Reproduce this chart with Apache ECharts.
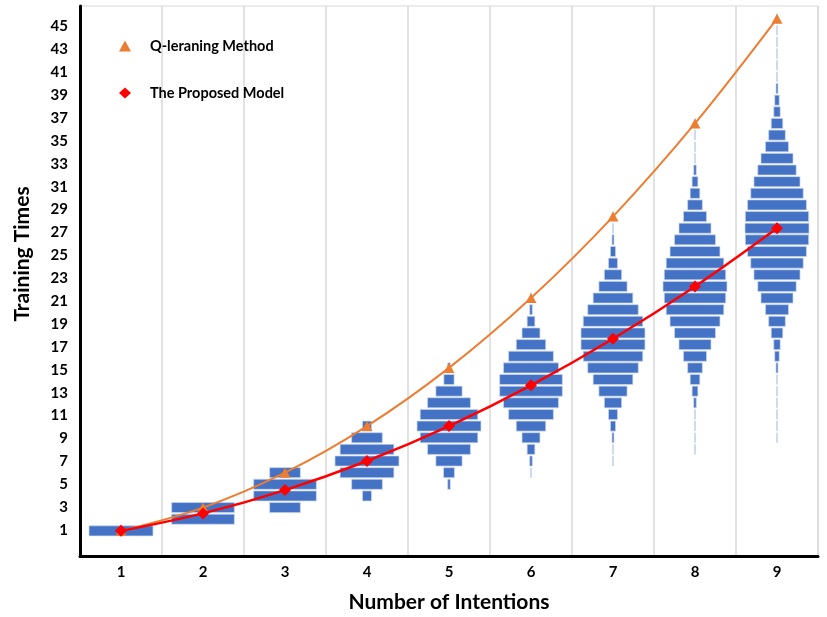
<!DOCTYPE html>
<html>
<head>
<meta charset="utf-8">
<script src="https://cdn.jsdelivr.net/npm/echarts@6/dist/echarts.min.js"></script>
<style>html,body{margin:0;padding:0;background:#fff}#c{width:827px;height:617px}</style>
</head>
<body>
<div id="c"></div>
<script>
// ---- data ----
const categories = ['1', '2', '3', '4', '5', '6', '7', '8', '9'];
const qLearning = [1, 3, 6, 10, 15, 21, 28, 36, 45];
const proposed = [1, 2.5, 4.5, 7, 10, 13.5, 17.5, 22, 27];
const yTickLabels = [1, 3, 5, 7, 9, 11, 13, 15, 17, 19, 21, 23, 25, 27, 29, 31, 33, 35, 37, 39, 41, 43, 45];

// histogram of training times per category: first bin, relative widths (% of widest bar)
const histStart = [1, 2, 3, 4, 5, 6, 7, 8, 9];
const hist1 = [100];
const hist2 = [98, 98];
const hist3 = [48, 98, 98, 48];
const hist4 = [14, 48, 84, 100, 84, 48, 14];
const hist5 = [4, 17, 41, 67, 90, 100, 90, 67, 41, 16, 4];
const hist6 = [1, 4, 12, 28, 46, 70, 86, 98, 98, 86, 70, 46, 28, 12, 4, 1];
const hist7 = [1, 1, 3, 8, 14, 27, 44, 62, 79, 93, 100, 100, 93, 79, 62, 44, 27, 14, 8, 3, 1, 1];
const hist8 = [1, 1, 1, 1, 4, 9, 15, 23, 36, 50, 64, 78, 90, 96, 100, 96, 90, 78, 64, 50, 36, 23, 15, 9, 4, 1, 1, 1, 1];
const hist9 = [1, 1, 1, 1, 1, 1, 3, 7, 10, 18, 26, 36, 50, 60, 72, 82, 92, 99, 100, 99, 92, 82, 72, 60, 50, 36, 26, 18, 10, 7, 3, 1, 1, 1, 1, 1, 1];

const hists = [hist1, hist2, hist3, hist4, hist5, hist6, hist7, hist8, hist9];
const histData = [];
hists.forEach(function (h, ci) {
  h.forEach(function (w, bi) {
    histData.push([ci, histStart[ci] + bi, w]);
  });
});

const FONT = 'Lato, "Open Sans", sans-serif';
const chart = echarts.init(document.getElementById('c'), null, { renderer: 'canvas' });

chart.setOption({
  animation: false,
  backgroundColor: '#fff',
  grid: {
    left: 80, top: 6, width: 738, height: 550.5,
    show: true, borderColor: '#D9D9D9', borderWidth: 1,
    containLabel: false, outerBoundsMode: 'none'
  },
  legend: {
    orient: 'vertical',
    left: 114, top: 33,
    itemWidth: 12, itemHeight: 11, itemGap: 31,
    textStyle: { fontFamily: FONT, fontWeight: 'bold', fontSize: 14.5, color: '#000', padding: [0, 0, 0, 14], lineHeight: 16 },
    data: [
      { name: 'Q-leraning Method', icon: 'triangle' },
      { name: 'The Proposed Model', icon: 'diamond' }
    ]
  },
  xAxis: {
    type: 'category',
    data: categories,
    boundaryGap: true,
    axisLine: { show: true, onZero: false, lineStyle: { color: '#000', width: 3 } },
    axisTick: { show: false },
    axisLabel: { fontFamily: FONT, fontWeight: 'bold', fontSize: 15, color: '#000', margin: 8 },
    splitLine: { show: true, interval: 0, lineStyle: { color: '#D9D9D9', width: 1.5 } },
    name: 'Number of Intentions',
    nameLocation: 'middle',
    nameGap: 35,
    nameTextStyle: { fontFamily: FONT, fontWeight: 'bold', fontSize: 21, color: '#000' }
  },
  yAxis: [
    {
      type: 'value',
      min: -1.316, max: 46.8,
      axisLine: { show: true, onZero: false, lineStyle: { color: '#000', width: 3 } },
      axisTick: { show: false },
      splitLine: { show: false },
      axisLabel: {
        customValues: yTickLabels,
        fontFamily: FONT, fontWeight: 'bold', fontSize: 15, color: '#000', margin: 12
      }
    },
    {
      type: 'value',
      min: -1.203, max: 46.09,
      show: false,
      splitLine: { show: false }
    }
  ],
  graphic: [
    {
      type: 'text',
      x: 22, y: 254,
      rotation: Math.PI / 2,
      style: {
        text: 'Training Times',
        font: 'bold 21px ' + FONT,
        fill: '#000',
        align: 'center', verticalAlign: 'middle',
        textAlign: 'center', textVerticalAlign: 'middle'
      }
    }
  ],
  series: [
    {
      type: 'custom',
      name: 'hist',
      xAxisIndex: 0, yAxisIndex: 1,
      z: 1,
      encode: { x: 0, y: 1 },
      data: histData,
      renderItem: function (params, api) {
        const c = api.coord([api.value(0), api.value(1)]);
        const band = api.size([1, 0])[0];
        const h = api.size([0, 1])[1];
        let w = api.value(2) / 100 * band * 0.78;
        const thin = w < 1.5;
        if (thin) w = 1;
        return {
          type: 'rect',
          shape: { x: c[0] - w / 2, y: c[1] - h / 2 + 0.8, width: w, height: h - 1.6 },
          style: thin
            ? { fill: '#9DB5E0' }
            : { fill: '#4472C4', stroke: '#C9D6EE', lineWidth: 0.7 }
        };
      }
    },
    {
      type: 'line',
      name: 'Q-leraning Method',
      yAxisIndex: 1,
      z: 3,
      data: qLearning,
      smooth: 0.35,
      symbol: 'triangle',
      symbolSize: [11, 10],
      color: '#ED7D31',
      itemStyle: { color: '#ED7D31' },
      lineStyle: { color: '#ED7D31', width: 2 }
    },
    {
      type: 'line',
      name: 'The Proposed Model',
      yAxisIndex: 1,
      z: 4,
      data: proposed,
      smooth: 0.35,
      symbol: 'diamond',
      symbolSize: 12,
      color: '#FF0000',
      itemStyle: { color: '#FF0000' },
      lineStyle: { color: '#FF0000', width: 2.5 }
    }
  ]
});
</script>
</body>
</html>
